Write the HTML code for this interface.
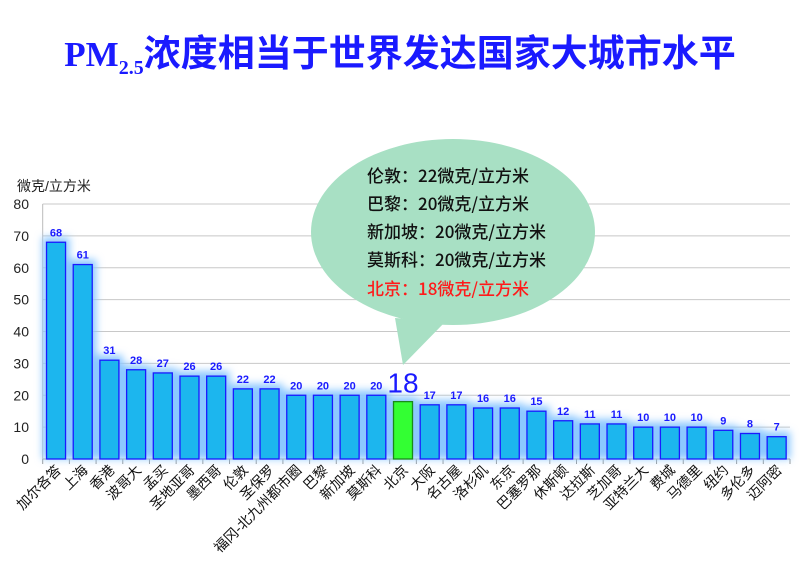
<!DOCTYPE html>
<html><head><meta charset="utf-8"><style>
body{margin:0;background:#fff;width:800px;height:581px;overflow:hidden;font-family:"Liberation Sans","Noto Sans CJK SC",sans-serif}
</style></head><body>
<svg id="chart" width="800" height="581" xmlns="http://www.w3.org/2000/svg">
<defs>
<filter id="glow" x="-30%" y="-10%" width="160%" height="120%"><feGaussianBlur stdDeviation="4"/></filter>
</defs>
<text x="400" y="66" text-anchor="middle" fill="#1a1aff" font-weight="bold" font-size="37"><tspan font-family="Liberation Serif,serif" font-size="35">PM</tspan><tspan font-family="Liberation Serif,serif" font-size="20" dy="8">2.5</tspan><tspan dy="-8" font-family="Noto Sans CJK SC,sans-serif">浓度相当于世界发达国家大城市水平</tspan></text>
<text x="17" y="191" font-size="14" fill="#222">微克/立方米</text>
<g id="grid"></g>
<g id="glowg" filter="url(#glow)"></g>
<g id="bars"></g>
<g id="labels"></g>
<g>
<path d="M395,318 L403,365 L445,322 Z" fill="#a8e0c4"/>
<ellipse cx="453" cy="232" rx="142" ry="93" fill="#a8e0c4"/>
<g font-size="17" fill="#111" font-weight="500" font-family="Noto Sans CJK SC,sans-serif">
<text x="367" y="182">伦敦：22微克/立方米</text>
<text x="367" y="210">巴黎：20微克/立方米</text>
<text x="367" y="238">新加坡：20微克/立方米</text>
<text x="367" y="266">莫斯科：20微克/立方米</text>
<text x="367" y="295" fill="#ff1a1a">北京：18微克/立方米</text>
</g>
</g>
</svg>
<script>
const categories=["加尔各答","上海","香港","波哥大","孟买","圣地亚哥","墨西哥","伦敦","圣保罗","福冈-北九州都市圈","巴黎","新加坡","莫斯科","北京","大阪","名古屋","洛杉矶","东京","巴塞罗那","休斯顿","达拉斯","芝加哥","亚特兰大","费城","马德里","纽约","多伦多","迈阿密"];
const values=[68,61,31,28,27,26,26,22,22,20,20,20,20,18,17,17,16,16,15,12,11,11,10,10,10,9,8,7];
const yTicks=[0,10,20,30,40,50,60,70,80];
const highlight="北京";
const NS="http://www.w3.org/2000/svg";
const x0=42.7,x1=790,y0=459,y1=204,yMax=80;
const slot=(x1-x0)/categories.length;
const X=i=>x0+slot*(i+0.5);
const Y=v=>y0-(v/yMax)*(y0-y1);
function mk(t,a,p){const e=document.createElementNS(NS,t);for(const k in a)e.setAttribute(k,a[k]);p.appendChild(e);return e;}
const grid=document.getElementById('grid'),bars=document.getElementById('bars'),lab=document.getElementById('labels'),glow=document.getElementById('glowg');
yTicks.forEach(t=>{
 const l=mk('line',{x1:x0,x2:x1,y1:Y(t),y2:Y(t),stroke:t===0?'#999':'#c8c8c8','stroke-width':1},grid);
 
 
 const tx=mk('text',{x:29,y:Y(t)+5,'text-anchor':'end','font-size':14,fill:'#222'},grid);
 tx.textContent=t;
 
 
});
mk('line',{x1:x0,x2:x0,y1:y1,y2:y0,stroke:'#bbb'},grid);
for(let i=0;i<=categories.length;i++){mk('line',{x1:x0+slot*i,x2:x0+slot*i,y1:y0,y2:y0+5,stroke:'#999'},grid);}
categories.forEach((c,i)=>{
 const v=values[i],w=19,bx=X(i)-w/2,hl=c===highlight;
 mk('rect',{x:bx-4,y:Y(v)-5,width:w+8,height:y0-Y(v)+5,fill:'#8cc8ff'},glow);
 const r=mk('rect',{x:bx,y:Y(v),width:w,height:y0-Y(v),fill:hl?'#33ff33':'#1cb6ee',stroke:hl?'#1a8a1a':'#1a1aff','stroke-width':1.3},bars);
 
 
 const vt=mk('text',{x:X(i),y:hl?Y(v)-9:Y(v)-6,'text-anchor':'middle','font-size':hl?28:11,'font-weight':hl?'normal':'bold',fill:'#1a1aff'},lab);
 vt.textContent=v;
 
 
 const ct=mk('text',{x:0,y:0,'text-anchor':'end','font-size':14,fill:'#111',transform:`translate(${X(i)+6},${y0+12}) rotate(-45)`},lab);
 ct.textContent=c;
 
 
});
</script>
</body></html>
